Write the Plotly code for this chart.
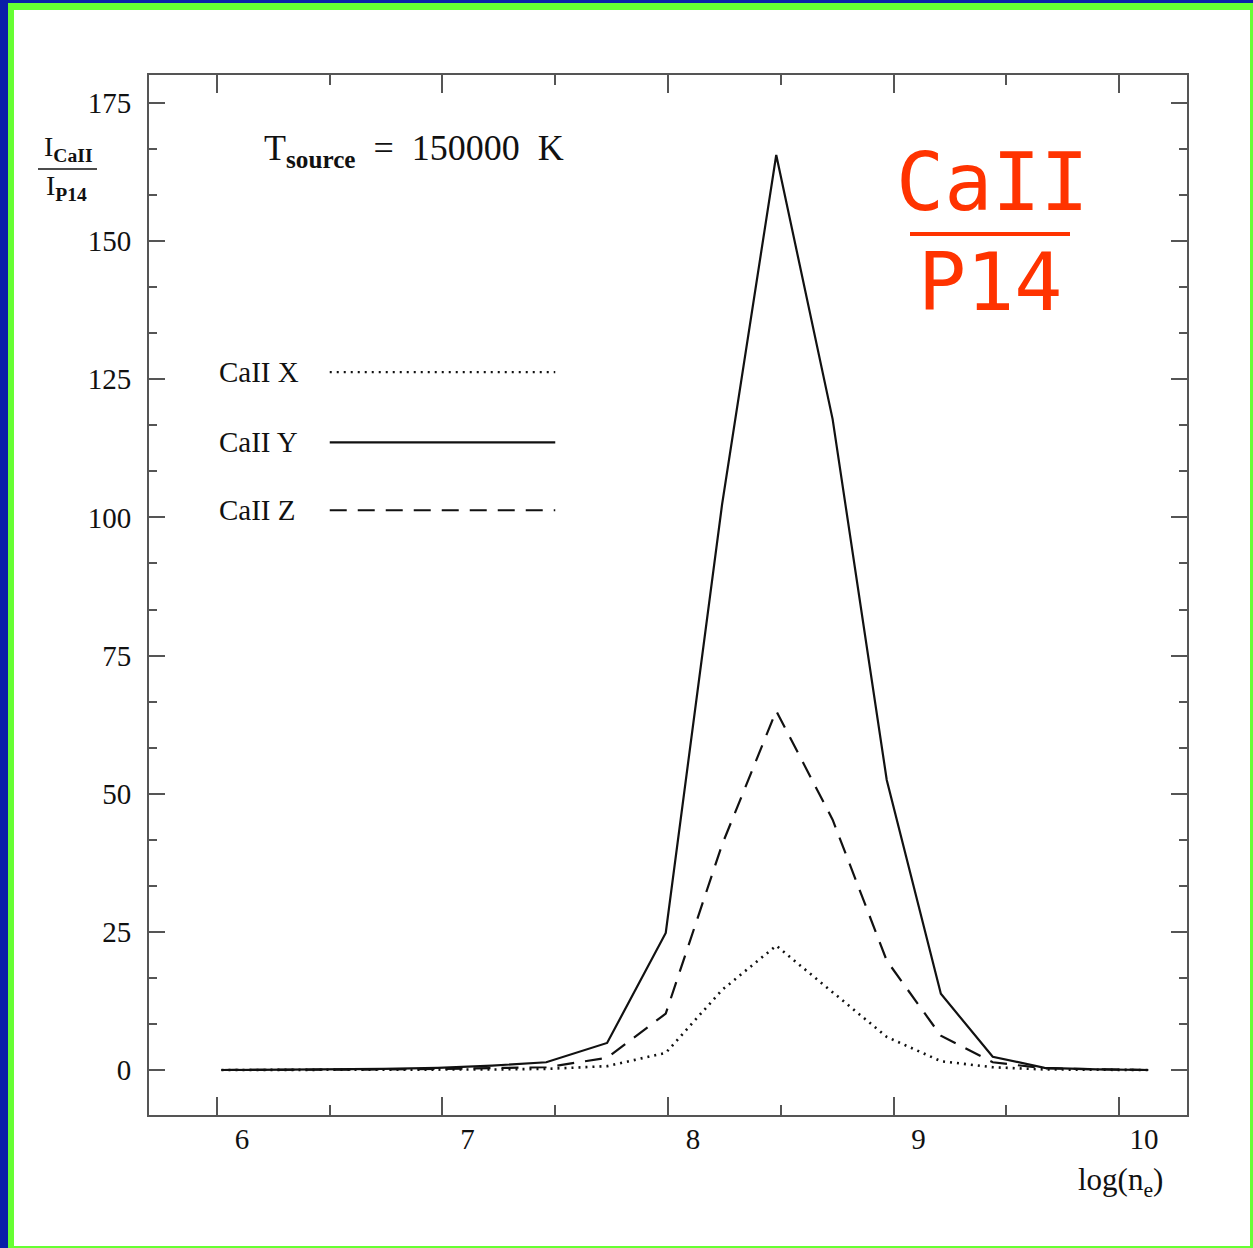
import plotly.graph_objects as go

# ---- data ----
log_ne = [6.02, 6.26, 6.50, 6.74, 6.98, 7.22, 7.46, 7.73, 7.99, 8.24, 8.48,
          8.73, 8.97, 9.21, 9.44, 9.67, 9.90, 10.13]
caii_x = [0.0, 0.0, 0.0, 0.0, 0.05, 0.1, 0.2, 0.7, 3.1, 14.5, 22.5,
          14.1, 6.0, 1.6, 0.5, 0.1, 0.0, 0.0]
caii_y = [0.0, 0.05, 0.1, 0.2, 0.4, 0.8, 1.4, 4.9, 24.8, 102.4, 165.6,
          117.8, 52.5, 13.8, 2.4, 0.4, 0.1, 0.0]
caii_z = [0.0, 0.0, 0.05, 0.1, 0.2, 0.3, 0.5, 2.2, 10.2, 40.8, 65.0,
          45.3, 19.8, 6.2, 1.4, 0.3, 0.1, 0.0]
series_names = ["CaII X", "CaII Y", "CaII Z"]
x_ticks = [6, 7, 8, 9, 10]
y_ticks = [0, 25, 50, 75, 100, 125, 150, 175]

W, H = 1253, 1248
L, R, T, B = 149, 1187, 75, 1115
FONT = "Liberation Serif"
INK = "#111111"
AX = "#555555"

def px(xp):
    return (xp - L) / (R - L)

def py(yp):
    return (B - yp) / (B - T)

styles = [dict(dash="2px,5px", width=2.6), dict(dash="solid", width=2.2),
          dict(dash="17px,11px", width=2.2)]

fig = go.Figure()
for name, ys, st in zip(series_names, [caii_x, caii_y, caii_z], styles):
    fig.add_trace(go.Scatter(x=log_ne, y=ys, mode="lines", name=name,
                             line=dict(color=INK, width=st["width"], dash=st["dash"])))

shapes = [
    # frame: green background, blue edges, white inner area
    dict(type="rect", xref="paper", yref="paper", x0=px(0), x1=px(8), y0=py(H), y1=py(0),
         fillcolor="#0a1fa8", line_width=0, layer="below"),
    dict(type="rect", xref="paper", yref="paper", x0=px(0), x1=px(W), y0=py(3), y1=py(0),
         fillcolor="#0a1fa8", line_width=0, layer="below"),
    dict(type="rect", xref="paper", yref="paper", x0=px(14), x1=px(1250), y0=py(1246), y1=py(10),
         fillcolor="white", line_width=0, layer="below"),
    # y label fraction bar
    dict(type="line", xref="paper", yref="paper", x0=px(38), x1=px(97), y0=py(169), y1=py(169),
         line=dict(color=INK, width=1.5)),
    # red fraction bar
    dict(type="line", xref="paper", yref="paper", x0=px(910), x1=px(1070), y0=py(234), y1=py(234),
         line=dict(color="#ff3300", width=4)),
]
# legend sample lines
leg_y = [126.3, 113.6, 101.3]
for yv, st in zip(leg_y, styles):
    shapes.append(dict(type="line", xref="x", yref="y", x0=6.5, x1=7.5, y0=yv, y1=yv,
                       line=dict(color=INK, width=min(st["width"], 2.2), dash=st["dash"])))

annotations = []
for name, yv in zip(series_names, leg_y):
    annotations.append(dict(x=6.0, y=yv, xref="x", yref="y", text=name, showarrow=False,
                            xanchor="left", yanchor="middle",
                            font=dict(family=FONT, size=29, color=INK)))
annotations += [
    dict(x=px(262), y=py(151), xref="paper", yref="paper", xanchor="left", yanchor="middle",
         text="T<sub><b>source</b></sub>  =  150000  K", showarrow=False,
         font=dict(family=FONT, size=36, color=INK)),
    dict(x=px(68), y=py(149), xref="paper", yref="paper", xanchor="center", yanchor="middle",
         text="I<sub><b>CaII</b></sub>", showarrow=False,
         font=dict(family=FONT, size=28, color=INK)),
    dict(x=px(66), y=py(188), xref="paper", yref="paper", xanchor="center", yanchor="middle",
         text="I<sub><b>P14</b></sub>", showarrow=False,
         font=dict(family=FONT, size=28, color=INK)),
    dict(x=px(1120), y=py(1182), xref="paper", yref="paper", xanchor="center", yanchor="middle",
         text="log(n<sub>e</sub>)", showarrow=False,
         font=dict(family=FONT, size=31, color=INK)),
    dict(x=px(992), y=py(183), xref="paper", yref="paper", xanchor="center", yanchor="middle",
         text="CaII", showarrow=False,
         font=dict(family="DejaVu Sans Mono", size=80, color="#ff3300")),
    dict(x=px(990), y=py(283), xref="paper", yref="paper", xanchor="center", yanchor="middle",
         text="P14", showarrow=False,
         font=dict(family="DejaVu Sans Mono", size=80, color="#ff3300")),
]

axis_common = dict(showgrid=False, zeroline=False, showline=True, linecolor=AX, linewidth=2,
                   mirror="ticks", ticks="inside", tickcolor=AX, tickwidth=1.8,
                   tickfont=dict(family=FONT, size=29, color=INK))

fig.update_layout(
    width=W, height=H,
    margin=dict(l=L, r=W - R, t=T, b=H - B, pad=0),
    paper_bgcolor="#66ff33", plot_bgcolor="white",
    showlegend=False,
    shapes=shapes, annotations=annotations,
    xaxis=dict(range=[5.6985, 10.3015], tickvals=x_ticks, ticklen=18,
               ticklabelshift=25, ticklabelstandoff=-3,
               minor=dict(ticks="inside", ticklen=10, tickwidth=1.5, tickcolor=AX,
                          tickvals=[6.5, 7.5, 8.5, 9.5]),
               **axis_common),
    yaxis=dict(range=[-8.14, 180.07], tickvals=y_ticks, ticklen=16,
               ticklabelstandoff=10,
               minor=dict(ticks="inside", ticklen=8, tickwidth=1.5, tickcolor=AX,
                          dtick=25 / 3, tick0=0),
               **axis_common),
)

fig.write_html("out.html")
